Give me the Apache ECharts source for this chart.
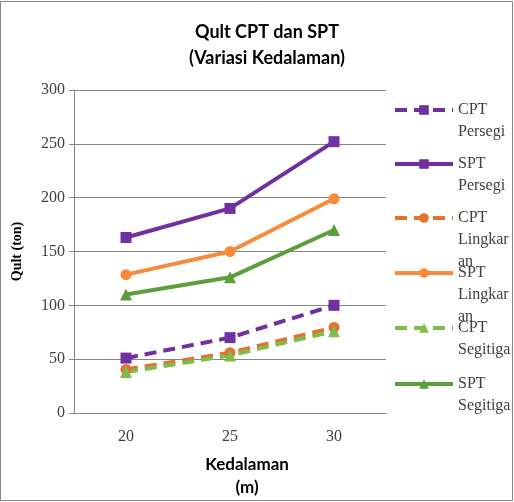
<!DOCTYPE html>
<html><head><meta charset="utf-8">
<script src="https://cdn.jsdelivr.net/npm/echarts@6/dist/echarts.min.js"></script>
<style>html,body{margin:0;padding:0;background:#fff}#c{width:514px;height:502px}</style>
</head><body><div id="c"></div>
<script>
const categories = ['20', '25', '30'];
const seriesNames = ['CPT Persegi', 'SPT Persegi', 'CPT Lingkaran', 'SPT Lingkaran', 'CPT Segitiga', 'SPT Segitiga'];
const legendLabels = ['CPT\nPersegi', 'SPT\nPersegi', 'CPT\nLingkar\nan', 'SPT\nLingkar\nan', 'CPT\nSegitiga', 'SPT\nSegitiga'];
const cptPersegi = [51, 70, 100];
const sptPersegi = [163, 190, 252];
const cptLingkaran = [40.5, 56, 79.5];
const sptLingkaran = [128.5, 150, 199];
const cptSegitiga = [38, 53.5, 76];
const sptSegitiga = [110, 126, 170];
const yTicks = [0, 50, 100, 150, 200, 250, 300];

const values = [cptPersegi, sptPersegi, cptLingkaran, sptLingkaran, cptSegitiga, sptSegitiga];
const colors = ['#7030A0', '#7030A0', '#E2722E', '#F68B3C', '#7FBE4C', '#5D9E3C'];
const symbols = ['rect', 'rect', 'circle', 'circle', 'triangle', 'triangle'];
const dashed = [true, false, true, false, true, false];
const legendCenters = [110, 164, 218, 273, 328, 384];
const LH = 22;

const chart = echarts.init(document.getElementById('c'), null, {renderer: 'canvas'});
const series = seriesNames.map((n, i) => ({
  name: n, type: 'line', data: values[i],
  symbol: symbols[i], symbolSize: symbols[i] === 'triangle' ? 12 : 11,
  lineStyle: {color: colors[i], width: 4, type: dashed[i] ? [12, 7] : 'solid'},
  itemStyle: {color: colors[i]},
  z: dashed[i] ? 3 : 2
}));
const legends = seriesNames.map((n, i) => {
  const lines = legendLabels[i].split('\n').length;
  const label = '\n'.repeat(lines - 1) + legendLabels[i];
  const boxH = (2 * lines - 1) * LH;
  return {
    data: [n], left: 393, top: legendCenters[i] - boxH / 2, padding: 0,
    itemWidth: 58, itemHeight: 12, itemGap: 5,
    lineStyle: {width: 4},
    formatter: () => label,
    textStyle: {fontFamily: 'Liberation Serif', fontSize: 16, color: '#404040', lineHeight: LH}
  };
});
chart.setOption({
  animation: false,
  backgroundColor: '#fff',
  title: {
    text: 'Qult CPT dan SPT\n(Variasi Kedalaman)', left: 262, top: 14, textAlign: 'center',
    textStyle: {fontFamily: 'Lato', fontWeight: 'bold', fontSize: 18, lineHeight: 26, color: '#000'}
  },
  legend: legends,
  grid: {left: 74, right: 128, top: 90, bottom: 89, outerBoundsMode: 'none', containLabel: false},
  xAxis: {
    type: 'category', data: categories, boundaryGap: true,
    name: 'Kedalaman\n(m)', nameLocation: 'middle', nameGap: 40,
    nameTextStyle: {fontFamily: 'Lato', fontWeight: 'bold', fontSize: 17, lineHeight: 23, color: '#000', padding: [0, 0, 0, 34]},
    axisLine: {lineStyle: {color: '#868686'}}, axisTick: {show: false},
    axisLabel: {fontFamily: 'Liberation Serif', fontSize: 16, color: '#404040', margin: 16}
  },
  yAxis: {
    type: 'value', min: 0, max: 300, interval: 50,
    name: 'Qult (ton)', nameLocation: 'middle', nameGap: 50,
    nameTextStyle: {fontFamily: 'Liberation Serif', fontWeight: 'bold', fontSize: 14, color: '#000'},
    axisLine: {show: true, lineStyle: {color: '#868686'}},
    axisTick: {show: true, length: 5, lineStyle: {color: '#868686'}},
    splitLine: {lineStyle: {color: '#868686'}},
    axisLabel: {fontFamily: 'Liberation Serif', fontSize: 16, color: '#404040', margin: 9,
      formatter: v => yTicks.includes(v) ? String(v) : ''}
  },
  series: series,
  graphic: [{type: 'rect', shape: {x: 0.5, y: 1.5, width: 512, height: 499}, style: {fill: 'none', stroke: '#868686', lineWidth: 1}, silent: true}]
});
</script></body></html>
